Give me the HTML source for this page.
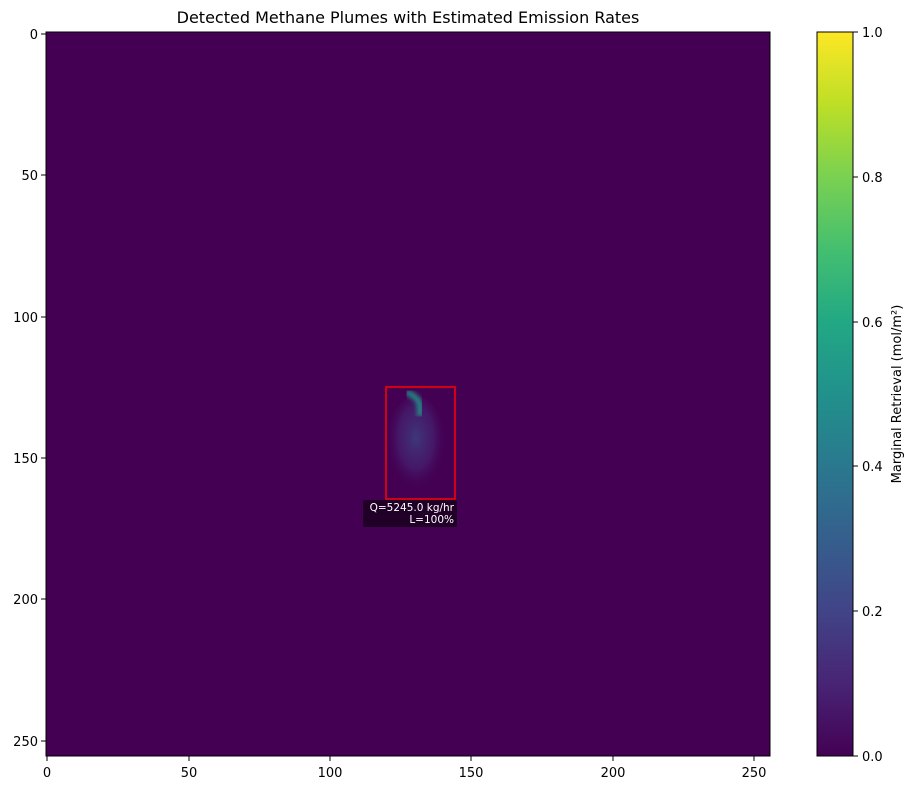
<!DOCTYPE html>
<html><head><style>
body{margin:0;background:#fff;}
svg text{font-family:"DejaVu Sans","Liberation Sans",sans-serif;fill:#000;}
</style></head><body>
<svg width="914" height="790" viewBox="0 0 914 790" xmlns="http://www.w3.org/2000/svg">
<defs>
<linearGradient id="vir" x1="0" y1="1" x2="0" y2="0">
<stop offset="0" stop-color="#440154"/>
<stop offset="0.1" stop-color="#482475"/>
<stop offset="0.2" stop-color="#414487"/>
<stop offset="0.3" stop-color="#355f8d"/>
<stop offset="0.4" stop-color="#2a788e"/>
<stop offset="0.5" stop-color="#21918c"/>
<stop offset="0.6" stop-color="#22a884"/>
<stop offset="0.7" stop-color="#44bf70"/>
<stop offset="0.8" stop-color="#7ad151"/>
<stop offset="0.9" stop-color="#bddf26"/>
<stop offset="1" stop-color="#fde725"/>
</linearGradient>
<radialGradient id="blob" cx="0.5" cy="0.4" r="0.5">
<stop offset="0" stop-color="#3b4f8a" stop-opacity="0.7"/>
<stop offset="0.6" stop-color="#46337e" stop-opacity="0.45"/>
<stop offset="1" stop-color="#440154" stop-opacity="0"/>
</radialGradient>
<filter id="bl"><feGaussianBlur stdDeviation="2.5"/></filter>
</defs>
<text x="408" y="23" font-size="16" text-anchor="middle">Detected Methane Plumes with Estimated Emission Rates</text>
<rect x="46" y="32" width="724" height="724" fill="#440154"/>
<ellipse cx="416" cy="448" rx="30" ry="52" fill="url(#blob)"/>
<g filter="url(#bl)">
<path d="M408 393 Q416 396 419 402 Q421 408 420 414" stroke="#209a88" stroke-width="6" fill="none" stroke-linecap="round" opacity="0.9"/>
</g>
<rect x="386" y="387" width="69" height="112" fill="none" stroke="#ff0000" stroke-width="1.5"/>
<rect x="363" y="500" width="94" height="27" rx="2" fill="#1a0020" fill-opacity="0.85"/>
<text x="454" y="511" font-size="10.5" text-anchor="end" style="fill:#fff">Q=5245.0 kg/hr</text>
<text x="454" y="523" font-size="10.5" text-anchor="end" style="fill:#fff">L=100%</text>
<rect x="46" y="32" width="724" height="724" fill="none" stroke="#000" stroke-width="1"/>
<g stroke="#000" stroke-width="1">
<line x1="41" y1="34" x2="46" y2="34"/><line x1="41" y1="175" x2="46" y2="175"/><line x1="41" y1="317" x2="46" y2="317"/><line x1="41" y1="458" x2="46" y2="458"/><line x1="41" y1="599" x2="46" y2="599"/><line x1="41" y1="741" x2="46" y2="741"/>
<line x1="47" y1="756" x2="47" y2="761"/><line x1="189" y1="756" x2="189" y2="761"/><line x1="330" y1="756" x2="330" y2="761"/><line x1="471" y1="756" x2="471" y2="761"/><line x1="613" y1="756" x2="613" y2="761"/><line x1="754" y1="756" x2="754" y2="761"/>
</g>
<g font-size="13" text-anchor="end">
<text x="38" y="39">0</text><text x="38" y="180">50</text><text x="38" y="322">100</text><text x="38" y="463">150</text><text x="38" y="604">200</text><text x="38" y="746">250</text>
</g>
<g font-size="13" text-anchor="middle">
<text x="47" y="777">0</text><text x="189" y="777">50</text><text x="330" y="777">100</text><text x="471" y="777">150</text><text x="613" y="777">200</text><text x="754" y="777">250</text>
</g>
<rect x="817" y="32" width="36" height="724" fill="url(#vir)" stroke="#000" stroke-width="1"/>
<g stroke="#000"><line x1="853" y1="756" x2="858" y2="756"/><line x1="853" y1="611" x2="858" y2="611"/><line x1="853" y1="466" x2="858" y2="466"/><line x1="853" y1="322" x2="858" y2="322"/><line x1="853" y1="177" x2="858" y2="177"/><line x1="853" y1="32" x2="858" y2="32"/></g>
<g font-size="13">
<text x="862" y="761">0.0</text><text x="862" y="616">0.2</text><text x="862" y="471">0.4</text><text x="862" y="327">0.6</text><text x="862" y="182">0.8</text><text x="862" y="37">1.0</text>
</g>
<text transform="translate(901,394) rotate(-90)" font-size="13" text-anchor="middle">Marginal Retrieval (mol/m²)</text>
</svg>
</body></html>
